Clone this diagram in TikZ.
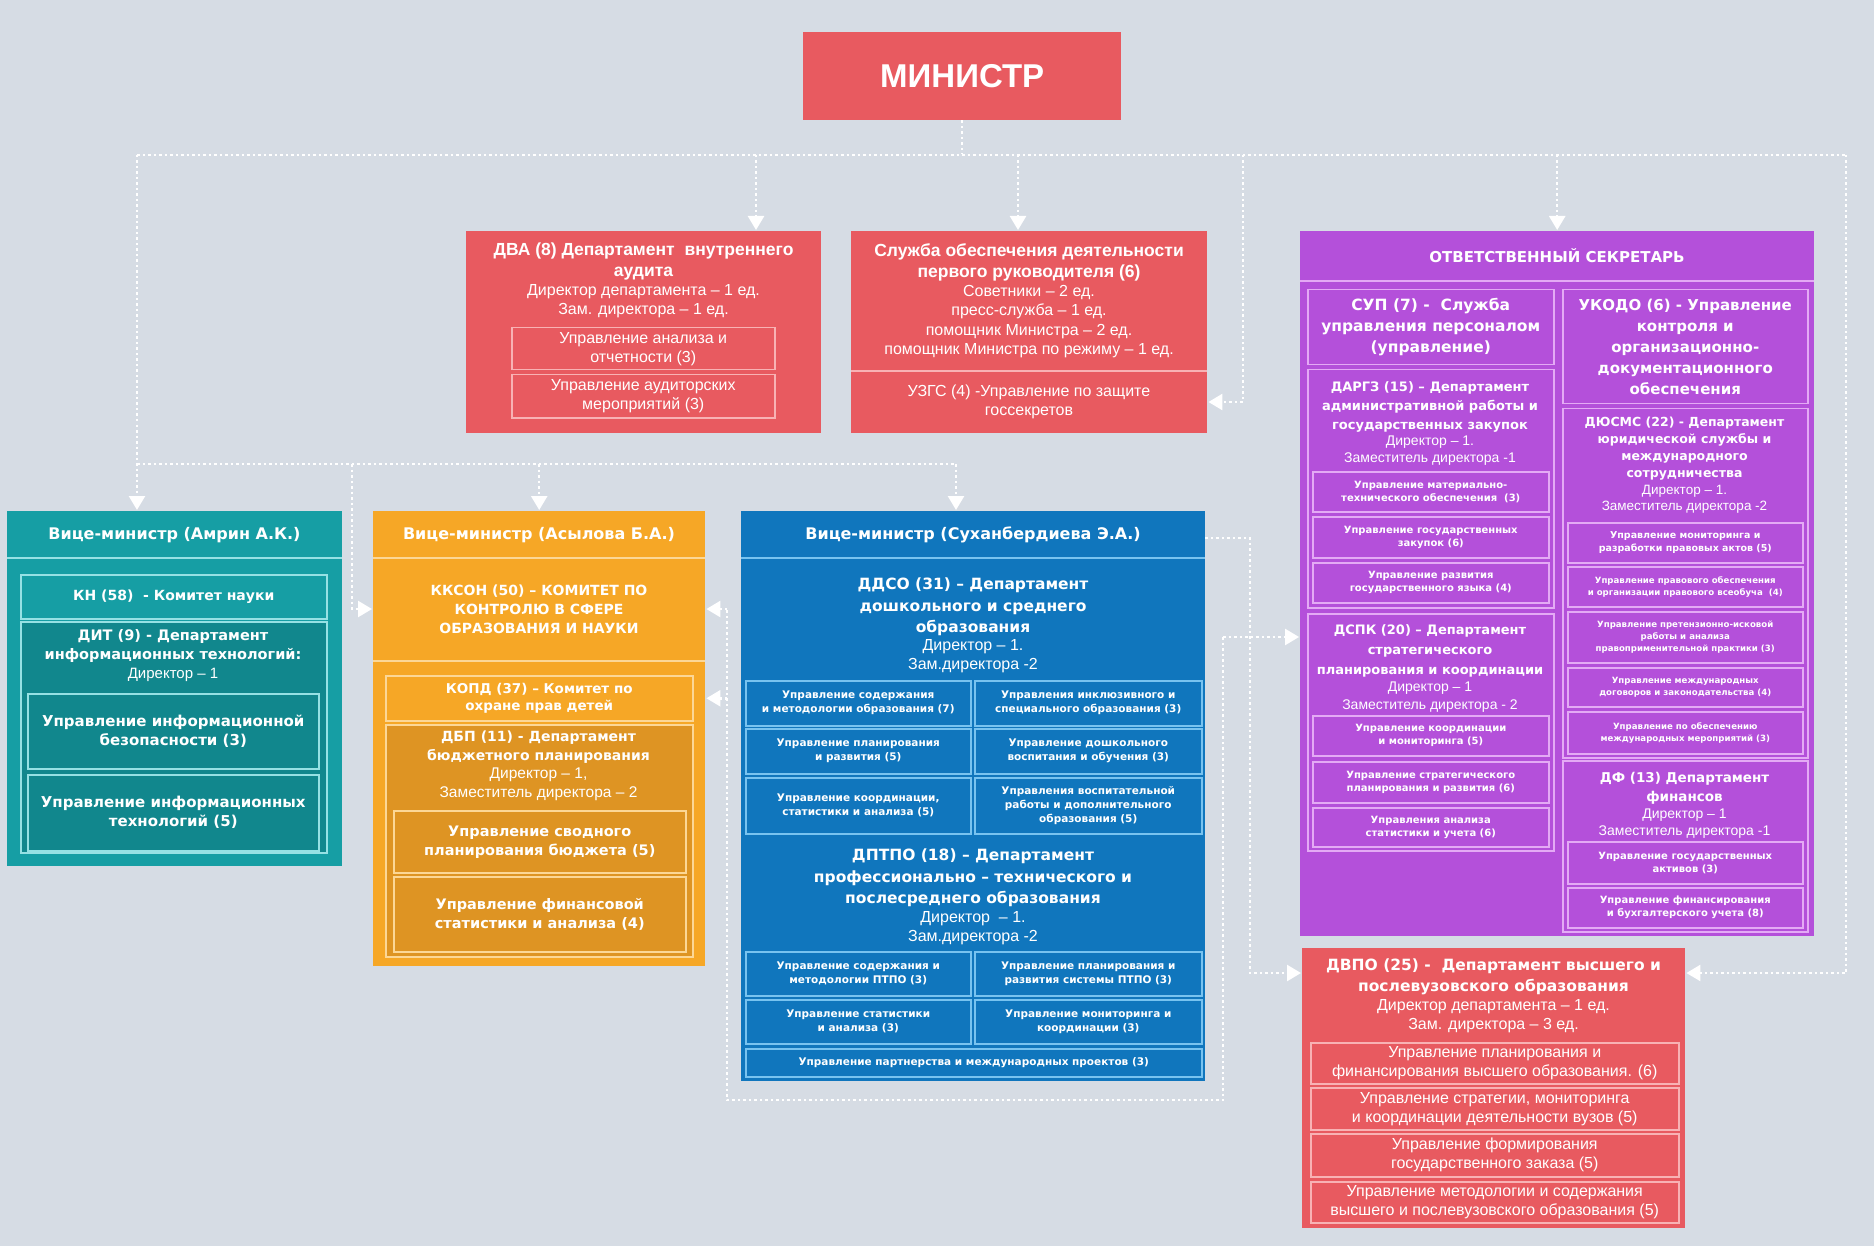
\documentclass[tikz,border=0pt]{standalone}
\usepackage{fontspec}
\setmainfont{Liberation Sans}
\newfontfamily\widefont{DejaVu Sans}
\usetikzlibrary{positioning,arrows.meta}

\definecolor{bgc}{RGB}{214,220,228}
\definecolor{redc}{RGB}{232,90,96}
\definecolor{redl}{RGB}{248,178,180}
\definecolor{tealc}{RGB}{22,158,164}
\definecolor{teald}{RGB}{17,135,141}
\definecolor{teall}{RGB}{150,225,228}
\definecolor{orangec}{RGB}{246,167,38}
\definecolor{oranged}{RGB}{222,148,35}
\definecolor{orangel}{RGB}{252,215,150}
\definecolor{bluec}{RGB}{16,118,189}
\definecolor{bluel}{RGB}{120,195,240}
\definecolor{purplec}{RGB}{180,80,218}
\definecolor{purplel}{RGB}{228,170,245}

\begin{document}
\begin{tikzpicture}[x=1pt,y=-1pt,>={Triangle[length=14pt,width=16pt]},
  every node/.style={text=white,inner sep=0pt,align=center},
  box/.style={rectangle,anchor=north west,fill=#1},
  sub/.style={rectangle,anchor=north west,draw=#1,line width=1.5pt},
  bw/.style 2 args={font=\widefont\bfseries\fontsize{#1}{#2}\selectfont},
  bn/.style 2 args={font=\bfseries\fontsize{#1}{#2}\selectfont},
  rg/.style 2 args={font=\fontsize{#1}{#2}\selectfont},
  ttl/.style={anchor=north},
  cell/.style={sub=bluel,bw={10.5}{14}},
  pcell/.style={sub=purplel,bw={10}{13}},
  scell/.style={sub=purplel,bw={8.6}{12}},
  rcell/.style={sub=redl,rg={16}{19}},
  sep/.style={line width=1.5pt},
  link/.style={draw=white,line width=2.5pt,dash pattern=on 2.5pt off 3pt,shorten >=1pt}]

\fill[bgc] (0,0) rectangle (1874,1246);
\useasboundingbox (0,0) rectangle (1874,1246);

% minister
\node[box=redc,minimum width=318,minimum height=88,bn={33}{38}] (min) at (803,32) {МИНИСТР};

% internal audit
\node[box=redc,minimum width=355,minimum height=202] (dva) at (466,231) {};
\node[bn={17.5}{21},ttl] (dvat) at (643.5,243) {ДВА (8) Департамент\ \ внутреннего\\аудита};
\node[rg={16}{19},below=4pt of dvat] (dvar) {Директор департамента – 1 ед.\\Зам. директора – 1 ед.};
\node[sub=redl,rg={16}{19},minimum width=263,minimum height=42] (dva1) at (511,327) {Управление анализа и\\отчетности (3)};
\node[sub=redl,rg={16}{19},minimum width=263,minimum height=43] (dva2) at (511,374) {Управление аудиторских\\мероприятий (3)};

% first head service
\node[box=redc,minimum width=356,minimum height=202] (slz) at (851,231) {};
\node[bn={17.5}{21},ttl] (slzt) at (1029,243) {Служба обеспечения деятельности\\первого руководителя (6)};
\node[rg={16}{19.5},below=4pt of slzt] (slzr) {Советники – 2 ед.\\пресс-служба – 1 ед.\\помощник Министра – 2 ед.\\помощник Министра по режиму – 1 ед.};
\draw[redl,sep] (slz.west |- 0,371) -- (slz.east |- 0,371);
\node[rg={16}{19.5}] (uzgs) at (1029,402) {УЗГС (4) -Управление по защите\\госсекретов};

% vice minister 1
\node[box=tealc,minimum width=335,minimum height=355] (teal) at (7,511) {};
\node[bw={16}{19}] (tealh) at (174.5,535) {Вице-министр (Амрин А.К.)};
\draw[teall,sep] (teal.west |- 0,558) -- (teal.east |- 0,558);
\node[sub=teall,minimum width=306,minimum height=44,bw={14}{17}] (kn) at (20,574) {КН (58)\ \ - Комитет науки};
\node[sub=teall,fill=teald,minimum width=306,minimum height=231] (dit) at (20,621) {};
\node[bw={14.5}{19},ttl] (ditt) at (173,629) {ДИТ (9) - Департамент\\информационных технологий:};
\node[rg={15}{18},below=6pt of ditt] (ditr) {Директор – 1};
\node[sub=teall,minimum width=291,minimum height=75,bw={15}{19}] (it1) at (27,693) {Управление информационной\\безопасности (3)};
\node[sub=teall,minimum width=291,minimum height=76,bw={15}{19}] (it2) at (27,774) {Управление информационных\\технологий (5)};

% vice minister 2
\node[box=orangec,minimum width=332,minimum height=455] (orange) at (373,511) {};
\node[bw={16}{19}] (orangeh) at (539,535) {Вице-министр (Асылова Б.А.)};
\draw[orangel,sep] (orange.west |- 0,558) -- (orange.east |- 0,558);
\node[bw={14}{19}] (kkson) at (539,609) {ККСОН (50) – КОМИТЕТ ПО\\КОНТРОЛЮ В СФЕРЕ\\ОБРАЗОВАНИЯ И НАУКИ};
\draw[orangel,sep] (orange.west |- 0,661) -- (orange.east |- 0,661);
\node[sub=orangel,minimum width=307,minimum height=45,bw={13.5}{17}] (kopd) at (385,675) {КОПД (37) – Комитет по\\охране прав детей};
\node[sub=orangel,fill=oranged,minimum width=307,minimum height=232] (dbp) at (385,724) {};
\node[bw={14}{19},ttl] (dbpt) at (538.5,731) {ДБП (11) - Департамент\\бюджетного планирования};
\node[rg={15.5}{19},below=4pt of dbpt] (dbpr) {Директор – 1,\\Заместитель директора – 2};
\node[sub=orangel,minimum width=292,minimum height=62,bw={14.5}{19}] (b1) at (393,810) {Управление сводного\\планирования бюджета (5)};
\node[sub=orangel,minimum width=292,minimum height=75,bw={14.5}{19}] (b2) at (393,876) {Управление финансовой\\статистики и анализа (4)};

% vice minister 3
\node[box=bluec,minimum width=464,minimum height=570] (blue) at (741,511) {};
\node[bw={16}{19}] (blueh) at (973,535) {Вице-министр (Суханбердиева Э.А.)};
\draw[bluel,sep] (blue.west |- 0,558) -- (blue.east |- 0,558);
\node[bw={15.5}{21.5},ttl] (ddso) at (973,578) {ДДСО (31) – Департамент\\дошкольного и среднего\\образования};
\node[rg={16}{19},below=3pt of ddso] (ddsor) {Директор – 1.\\Зам.директора -2};
\node[cell,minimum width=225,minimum height=45] (u11) at (745,680) {Управление содержания\\и методологии образования (7)};
\node[cell,minimum width=227,minimum height=45] (u12) at (974,680) {Управления инклюзивного и\\специального образования (3)};
\node[cell,minimum width=225,minimum height=45] (u21) at (745,728) {Управление планирования\\и развития (5)};
\node[cell,minimum width=227,minimum height=45] (u22) at (974,728) {Управление дошкольного\\воспитания и обучения (3)};
\node[cell,minimum width=225,minimum height=56] (u31) at (745,777) {Управление координации,\\статистики и анализа (5)};
\node[cell,minimum width=227,minimum height=56] (u32) at (974,777) {Управления воспитательной\\работы и дополнительного\\образования (5)};
\node[bw={15.5}{21.5},ttl] (dptpo) at (973,849) {ДПТПО (18) – Департамент\\профессионально – технического и\\послесреднего образования};
\node[rg={16}{19},below=4pt of dptpo] (dptpor) {Директор\ \ – 1.\\Зам.директора -2};
\node[cell,minimum width=225,minimum height=44] (p11) at (745,951) {Управление содержания и\\методологии ПТПО (3)};
\node[cell,minimum width=227,minimum height=44] (p12) at (974,951) {Управление планирования и\\развития системы ПТПО (3)};
\node[cell,minimum width=225,minimum height=44] (p21) at (745,999) {Управление статистики\\и анализа (3)};
\node[cell,minimum width=227,minimum height=44] (p22) at (974,999) {Управление мониторинга и\\координации (3)};
\node[cell,minimum width=456,minimum height=28] (p3) at (745,1048) {Управление партнерства и международных проектов (3)};

% executive secretary
\node[box=purplec,minimum width=514,minimum height=705] (secr) at (1300,231) {};
\node[bw={15}{18}] (secrh) at (1557,256) {ОТВЕТСТВЕННЫЙ СЕКРЕТАРЬ};
\draw[purplel,sep] (secr.west |- 0,281) -- (secr.east |- 0,281);
\node[sub=purplel,minimum width=246,minimum height=75,bw={15.5}{21}] (sup) at (1307,289) {СУП (7) -\ \ Служба\\управления персоналом\\(управление)};
\node[sub=purplel,minimum width=245,minimum height=114,bw={15}{21}] (ukodo) at (1562,289) {УКОДО (6) - Управление\\контроля и\\организационно-\\документационного\\обеспечения};
\node[sub=purplel,minimum width=246,minimum height=238] (dargz) at (1307,369) {};
\node[bw={13}{19},ttl] (dargzt) at (1430,381) {ДАРГЗ (15) – Департамент\\административной работы и\\государственных закупок};
\node[rg={14}{17},below=4pt of dargzt] (dargzr) {Директор – 1.\\Заместитель директора -1};
\node[pcell,minimum width=236,minimum height=40] (d1) at (1312,471) {Управление материально-\\технического обеспечения\ \ (3)};
\node[pcell,minimum width=236,minimum height=41] (d2) at (1312,516) {Управление государственных\\закупок (6)};
\node[pcell,minimum width=236,minimum height=40] (d3) at (1312,562) {Управление развития\\государственного языка (4)};
\node[sub=purplel,minimum width=246,minimum height=237] (dspk) at (1307,613) {};
\node[bw={13}{20},ttl] (dspkt) at (1430,624) {ДСПК (20) – Департамент\\стратегического\\планирования и координации};
\node[rg={14}{18},below=5pt of dspkt] (dspkr) {Директор – 1\\Заместитель директора - 2};
\node[pcell,minimum width=236,minimum height=40] (s1) at (1312,715) {Управление координации\\и мониторинга (5)};
\node[pcell,minimum width=236,minimum height=41] (s2) at (1312,761) {Управление стратегического\\планирования и развития (6)};
\node[pcell,minimum width=236,minimum height=39] (s3) at (1312,807) {Управления анализа\\статистики и учета (6)};
\node[sub=purplel,minimum width=245,minimum height=349] (dyusms) at (1562,408) {};
\node[bw={12.5}{17},ttl] (dyusmst) at (1684.5,417) {ДЮСМС (22) - Департамент\\юридической службы и\\международного\\сотрудничества};
\node[rg={13.5}{16.5},below=4pt of dyusmst] (dyusmsr) {Директор – 1.\\Заместитель директора -2};
\node[scell,bw={9.5}{13},minimum width=235,minimum height=40] (j1) at (1567,522) {Управление мониторинга и\\разработки правовых актов (5)};
\node[scell,minimum width=235,minimum height=40] (j2) at (1567,566) {Управление правового обеспечения\\и организации правового всеобуча\ \ (4)};
\node[scell,minimum width=235,minimum height=51] (j3) at (1567,611) {Управление претензионно-исковой\\работы и анализа\\правоприменительной практики (3)};
\node[scell,minimum width=235,minimum height=39] (j4) at (1567,667) {Управление международных\\договоров и законодательства (4)};
\node[scell,minimum width=235,minimum height=42] (j5) at (1567,711) {Управление по обеспечению\\международных мероприятий (3)};
\node[sub=purplel,minimum width=245,minimum height=171] (df) at (1562,760) {};
\node[bw={13.5}{19},ttl] (dft) at (1684.5,772) {ДФ (13) Департамент\\финансов};
\node[rg={14}{17},below=4pt of dft] (dfr) {Директор – 1\\Заместитель директора -1};
\node[pcell,minimum width=235,minimum height=42] (f1) at (1567,841) {Управление государственных\\активов (3)};
\node[pcell,minimum width=235,minimum height=40] (f2) at (1567,887) {Управление финансирования\\и бухгалтерского учета (8)};

% higher education
\node[box=redc,minimum width=383,minimum height=280] (dvpo) at (1302,948) {};
\node[bw={15.5}{21},ttl] (dvpot) at (1493.5,959) {ДВПО (25) -\ \ Департамент высшего и\\послевузовского образования};
\node[rg={16}{19},below=4pt of dvpot] (dvpor) {Директор департамента – 1 ед.\\Зам. директора – 3 ед.};
\node[rcell,minimum width=368,minimum height=41] (v1) at (1310,1042) {Управление планирования и\\финансирования высшего образования. (6)};
\node[rcell,minimum width=368,minimum height=42] (v2) at (1310,1087) {Управление стратегии, мониторинга\\и координации деятельности вузов (5)};
\node[rcell,minimum width=368,minimum height=43] (v3) at (1310,1133) {Управление формирования\\государственного заказа (5)};
\node[rcell,minimum width=368,minimum height=41] (v4) at (1310,1181) {Управление методологии и содержания\\высшего и послевузовского образования (5)};

% links
\coordinate (tl) at (137,155);
\coordinate (tr) at (1846,155);
\coordinate (adva) at (756,155);
\coordinate (aslz) at (1018,155);
\coordinate (auzg) at (1243,155);
\coordinate (ml) at (137,464);
\coordinate (mr) at (956,464);
\coordinate (akk) at (352,464);
\coordinate (br) at (1250,538);
\coordinate (cv) at (1250,973);
\coordinate (cs) at (1223,637);
\coordinate (cb) at (1223,1100);
\coordinate (cbl) at (727,1100);

\draw[link] (min.south) -- (min.south |- tl);
\draw[link] (tl) -- (tr);
\draw[link,->] (adva) -- (adva |- dva.north);
\draw[link,->] (aslz) -- (aslz |- slz.north);
\draw[link,->] (secr.north |- tl) -- (secr.north);
\draw[link,->] (auzg) |- (slz.east |- uzgs);
\draw[link,->] (tl) -- (tl |- teal.north);
\draw[link] (ml) -- (mr);
\draw[link,->] (mr) -- (mr |- blue.north);
\draw[link,->] (orange.north |- ml) -- (orange.north);
\draw[link,->] (akk) |- (orange.west |- kkson);
\draw[link,->] (blue.east |- br) -- (br) -- (cv) -- (cv -| dvpo.west);
\draw[link,->] (cs) -- (cs -| secr.west);
\draw[link] (cs) -- (cb) -- (cbl) -- (cbl |- kkson);
\draw[link,->] (cbl |- kkson) -- (orange.east |- kkson);
\draw[link,->] (cbl |- kopd) -- (orange.east |- kopd);
\draw[link,->] (tr) |- (cv -| dvpo.east);
\end{tikzpicture}
\end{document}
